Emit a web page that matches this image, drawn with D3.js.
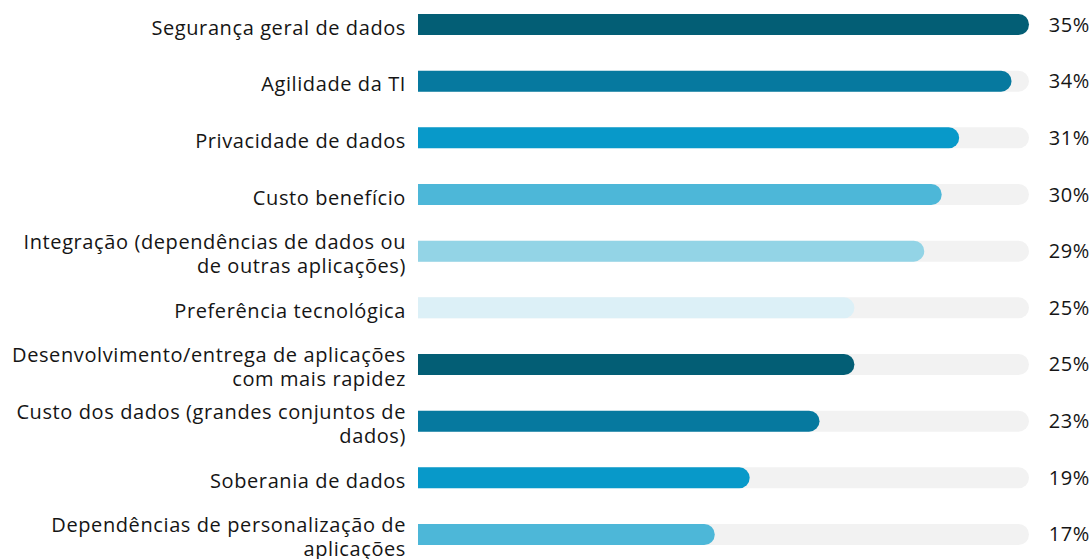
<!DOCTYPE html>
<html>
<head>
<meta charset="utf-8">
<script src="https://cdn.jsdelivr.net/npm/d3@7"></script>
<style>
  body { margin: 0; background: #fff; }
  text { font-family: "Open Sans", "Noto Sans", sans-serif; fill: #151515; letter-spacing: 0.6px; }
</style>
</head>
<body>
<svg id="chart" width="1092" height="559"></svg>
<script>
// categories (line breaks as in the original)
var categories = [
  ["Segurança geral de dados"],
  ["Agilidade da TI"],
  ["Privacidade de dados"],
  ["Custo benefício"],
  ["Integração (dependências de dados ou", "de outras aplicações)"],
  ["Preferência tecnológica"],
  ["Desenvolvimento/entrega de aplicações", "com mais rapidez"],
  ["Custo dos dados (grandes conjuntos de", "dados)"],
  ["Soberania de dados"],
  ["Dependências de personalização de", "aplicações"]
];
var values = [35, 34, 31, 30, 29, 25, 25, 23, 19, 17];
var colors = ["#035e75", "#06799f", "#0899c9", "#4db7d8", "#93d4e6", "#dcf0f7",
              "#035e75", "#06799f", "#0899c9", "#4db7d8"];

var svg = d3.select("#chart");
var plotLeft = 418, plotRight = 1029, firstTop = 14, lastBottom = 545;
var barH = 21;

var x = d3.scaleLinear().domain([0, 35]).range([plotLeft, plotRight]);
var y = d3.scaleBand()
    .domain(d3.range(values.length))
    .range([firstTop - 17.8, lastBottom + 17.8]);

// rounded right end, square left end
function barPath(x0, x1, cy) {
  var r = barH / 2, t = cy - r, b = cy + r;
  return "M" + x0 + "," + t + "H" + (x1 - r) +
    "A" + r + "," + r + " 0 0 1 " + (x1 - r) + "," + b +
    "H" + x0 + "Z";
}

function cy(i) { return y(i) + y.bandwidth() / 2; }

var row = svg.selectAll("g.row")
    .data(values)
  .enter().append("g")
    .attr("class", "row");

row.append("path")
    .attr("d", function(d, i) { return barPath(x(0), x(35), cy(i)); })
    .style("fill", "#f2f2f2");

row.append("path")
    .attr("d", function(d, i) { return barPath(x(0), x(d), cy(i)); })
    .style("fill", function(d, i) { return colors[i]; });

row.append("text")
    .attr("x", 1090)
    .attr("y", function(d, i) { return cy(i); })
    .attr("dy", "0.35em")
    .attr("text-anchor", "end")
    .style("font-size", "20px")
    .text(function(d) { return d + "%"; });

row.each(function(d, i) {
  var lines = categories[i];
  var t = d3.select(this).append("text")
      .attr("x", 406)
      .attr("text-anchor", "end")
      .style("font-size", "20px");
  var lh = 24;
  var y0 = cy(i) + 3 - (lines.length - 1) * lh / 2;
  lines.forEach(function(l, k) {
    t.append("tspan")
        .attr("x", 406)
        .attr("y", y0 + k * lh)
        .attr("dy", "0.35em")
        .text(l);
  });
});
</script>
</body>
</html>
